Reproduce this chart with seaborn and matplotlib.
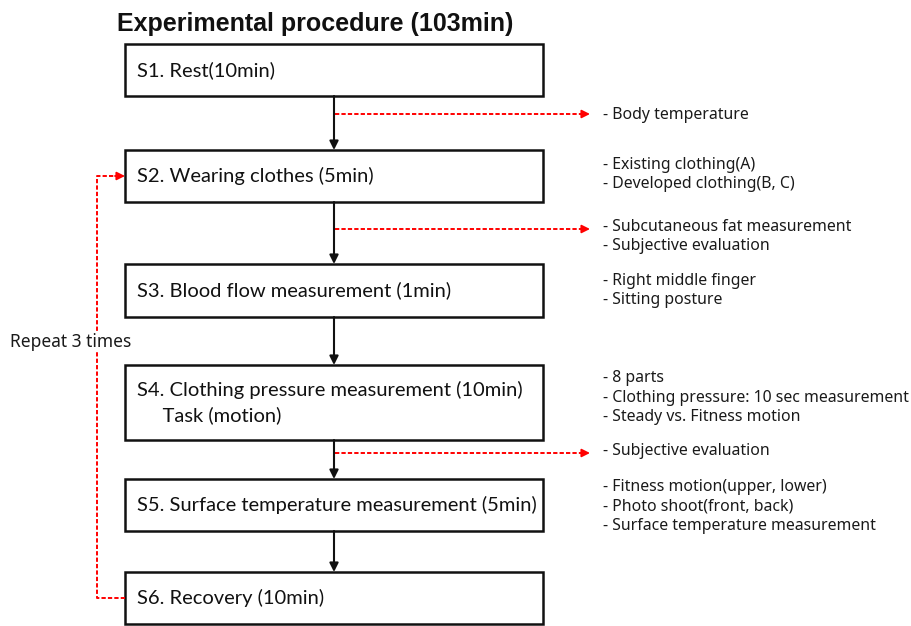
"""Flowchart of the experimental procedure, drawn on a pixel-sized axes."""

import matplotlib.pyplot as plt
import seaborn as sns
import pandas as pd

# --- data -----------------------------------------------------------------
title = "Experimental procedure (103min)"

step_labels = [
    "S1. Rest(10min)",
    "S2. Wearing clothes (5min)",
    "S3. Blood flow measurement (1min)",
    "S4. Clothing pressure measurement (10min)\n     Task (motion)",
    "S5. Surface temperature measurement (5min)",
    "S6. Recovery (10min)",
]
box_top = [44, 150, 264, 365, 479, 572]
box_bottom = [96, 202, 317, 440, 531, 624]

note_lines = [
    ["- Body temperature"],
    ["- Existing clothing(A)", "- Developed clothing(B, C)"],
    ["- Subcutaneous fat measurement", "- Subjective evaluation"],
    ["- Right middle finger", "- Sitting posture"],
    ["- 8 parts", "- Clothing pressure: 10 sec measurement",
     "- Steady vs. Fitness motion"],
    ["- Subjective evaluation"],
    ["- Fitness motion(upper, lower)", "- Photo shoot(front, back)",
     "- Surface temperature measurement"],
]
note_first_y = [115, 165, 227, 281, 378, 451, 487]

# red dashed branches leave the main arrow at these heights
branch_y = [114, 229, 453]

repeat_label = "Repeat 3 times"

# --- layout / style -------------------------------------------------------
BOX_L, BOX_R = 125, 543
ARROW_X = 334
BRANCH_END = 590
NOTE_X = 603
LOOP_X = 97
LINE_GAP = 19.5
RED = "#ff0000"
DASH = (0, (2.2, 1.1))

sns.set_theme(style="white")
plt.rcParams['font.family'] = ['Lato', 'DejaVu Sans']

fig = plt.figure(figsize=(9.11, 6.26), dpi=100)
ax = fig.add_axes([0, 0, 1, 1])
ax.set_xlim(0, 911)
ax.set_ylim(626, 0)
ax.axis('off')

ax.text(315, 24, title, ha='center', va='center', fontsize=18,
        fontweight='bold', family='Liberation Sans', color='#111111')

# boxes
for label, top, bot in zip(step_labels, box_top, box_bottom):
    ax.add_patch(plt.Rectangle((BOX_L, top), BOX_R - BOX_L, bot - top,
                               fill=False, edgecolor='#111111', lw=1.8))
    ax.text(BOX_L + 12, (top + bot) / 2, label, ha='left', va='center',
            fontsize=14.5, color='#111111', linespacing=1.45)

# black arrows between boxes
for bot, nxt in zip(box_bottom[:-1], box_top[1:]):
    ax.annotate('', xy=(ARROW_X, nxt), xytext=(ARROW_X, bot),
                arrowprops=dict(arrowstyle='-|>', color='#111111', lw=1.5,
                                mutation_scale=13, shrinkA=0, shrinkB=0))

# red dashed branches with arrow heads
for y in branch_y:
    ax.plot([ARROW_X + 1, BRANCH_END - 8], [y, y], color=RED, lw=1.4,
            linestyle=DASH)
    ax.annotate('', xy=(BRANCH_END, y), xytext=(BRANCH_END - 9, y),
                arrowprops=dict(arrowstyle='-|>', color=RED, lw=1.3,
                                mutation_scale=12, shrinkA=0, shrinkB=0))

# notes on the right
for lines, y0 in zip(note_lines, note_first_y):
    for i, line in enumerate(lines):
        ax.text(NOTE_X, y0 + i * LINE_GAP, line, ha='left', va='center',
                fontsize=11.4, family='Noto Sans', color='#1a1a1a')

# repeat loop: S6 -> left -> up -> S2
s2_mid = (box_top[1] + box_bottom[1]) / 2
s6_mid = (box_top[5] + box_bottom[5]) / 2
loop = pd.DataFrame({'x': [BOX_L, LOOP_X, LOOP_X, BOX_L - 9],
                     'y': [s6_mid, s6_mid, s2_mid, s2_mid]})
sns.lineplot(data=loop, x='x', y='y', sort=False, estimator=None, ax=ax,
             color=RED, lw=1.4, linestyle=DASH)
ax.annotate('', xy=(BOX_L, s2_mid), xytext=(BOX_L - 10, s2_mid),
            arrowprops=dict(arrowstyle='-|>', color=RED, lw=1.3,
                            mutation_scale=12, shrinkA=0, shrinkB=0))

ax.text(10, 342, repeat_label, ha='left', va='center', fontsize=12.5,
        family='Noto Sans', color='#1a1a1a',
        bbox=dict(facecolor='white', edgecolor='none', pad=1))

ax.set_xlabel('')
ax.set_ylabel('')
fig.savefig('out.png', dpi=100, facecolor='white')
